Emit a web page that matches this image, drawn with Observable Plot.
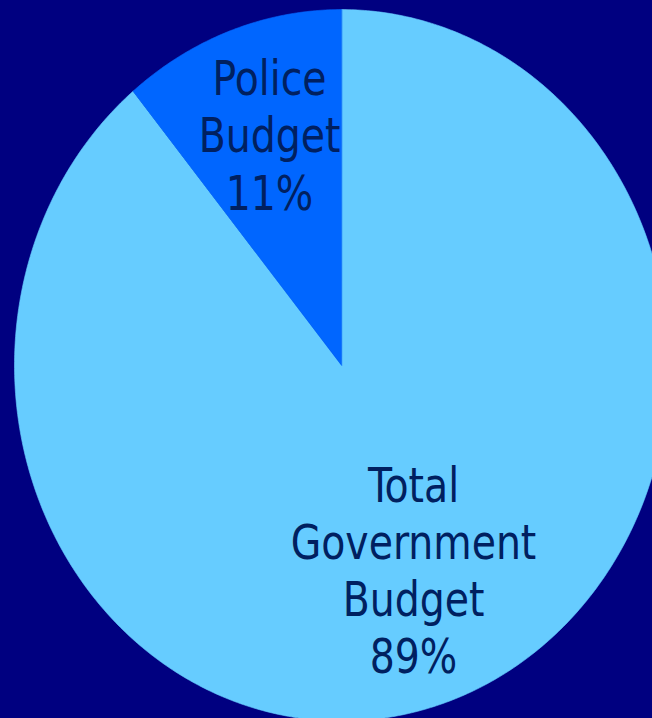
<!DOCTYPE html>
<html>
<head>
<meta charset="utf-8">
<script src="https://cdn.jsdelivr.net/npm/d3@7"></script>
<script src="https://cdn.jsdelivr.net/npm/@observablehq/plot@0.6"></script>
<style>
  html, body { margin: 0; padding: 0; background: #000080; overflow: hidden; }
  #chart { width: 652px; height: 718px; }
</style>
</head>
<body>
<div id="chart"></div>
<script>
// Data
const categories = ["Total Government Budget", "Police Budget"];
const values = [89, 11];

// Pie geometry derived from the data (clockwise from 12 o'clock)
const pie = d3.pie().sort(null).value(d => d.value);
const arcs = pie(categories.map((name, i) => ({name, value: values[i]})));

const points = [];
for (const a of arcs) {
  const n = Math.max(2, Math.ceil((a.endAngle - a.startAngle) / 0.01));
  points.push({name: a.data.name, x: 0, y: 0});
  for (let k = 0; k <= n; k++) {
    const t = a.startAngle + (a.endAngle - a.startAngle) * k / n;
    points.push({name: a.data.name, x: Math.sin(t), y: Math.cos(t)});
  }
}

const labelR = 0.65;
const labels = arcs.map(a => {
  const m = (a.startAngle + a.endAngle) / 2;
  return {
    name: a.data.name,
    x: labelR * Math.sin(m),
    y: labelR * Math.cos(m),
    text: a.data.name.replace(/ /g, "\n") + "\n" + a.data.value + "%"
  };
});

const W = 652, H = 660; // drawn as a circle, then stretched vertically to 718
const cx = 341, cy = 335.3, R = 327;

const chart = Plot.plot({
  width: W,
  height: H,
  margin: 0,
  style: {background: "transparent", overflow: "hidden"},
  x: {domain: [-1, 1], range: [cx - R, cx + R], axis: null},
  y: {domain: [-1, 1], range: [cy + R, cy - R], axis: null},
  color: {domain: categories, range: ["#66CCFF", "#0066FF"]},
  marks: [
    Plot.line(points, {
      x: "x", y: "y", z: "name",
      fill: "name", stroke: "name", strokeWidth: 0.6,
      curve: "linear-closed"
    }),
    Plot.text(labels, {
      x: "x", y: "y", text: "text",
      dy: -12.5,
      fill: "#002060",
      fontSize: 43.8,
      lineHeight: 1.2,
      fontFamily: "'DejaVu Sans Condensed', 'DejaVu Sans', sans-serif",
      fontStretch: "condensed"
    })
  ]
});

chart.setAttribute("preserveAspectRatio", "none");
chart.setAttribute("height", 718);
chart.style.width = "652px";
chart.style.height = "718px";
chart.style.maxWidth = "none";
document.getElementById("chart").appendChild(chart);
</script>
</body>
</html>
